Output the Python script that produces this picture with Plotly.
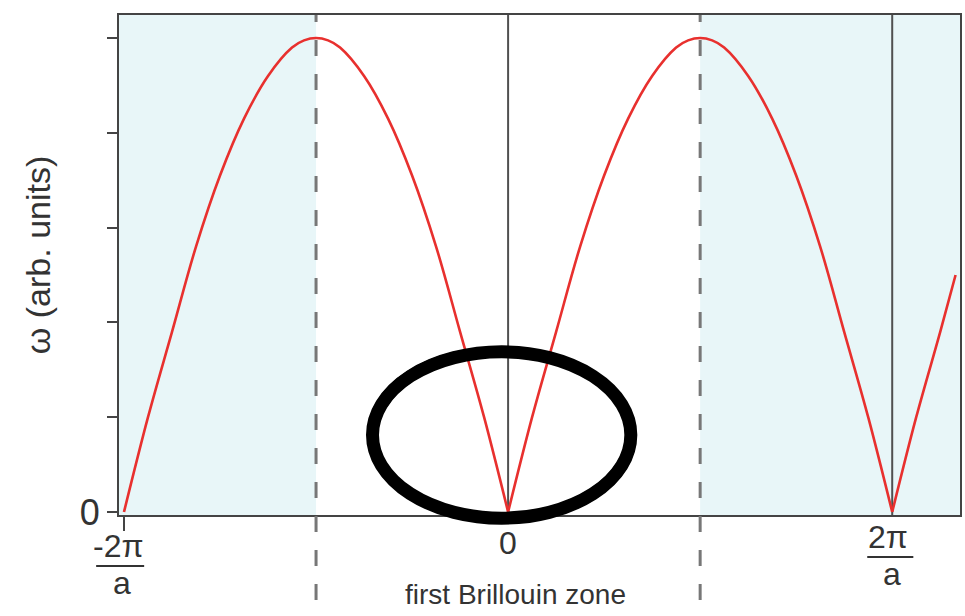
import plotly.graph_objects as go

# Wave vector k in units of pi/a and the phonon frequency (arb. units), per branch segment
k_left = [-2.0, -1.875, -1.75, -1.625, -1.5, -1.375, -1.25, -1.125, -1.0625, -1.0,
          -0.9375, -0.875, -0.75, -0.625, -0.5, -0.375, -0.25, -0.125, 0.0]
w_left = [0.0, 0.20, 0.38, 0.56, 0.71, 0.83, 0.92, 0.98, 0.995, 1.0,
          0.995, 0.98, 0.92, 0.83, 0.71, 0.56, 0.38, 0.20, 0.0]
k_right = [0.0, 0.125, 0.25, 0.375, 0.5, 0.625, 0.75, 0.875, 0.9375, 1.0,
           1.0625, 1.125, 1.25, 1.375, 1.5, 1.625, 1.75, 1.875, 2.0]
w_right = [0.0, 0.20, 0.38, 0.56, 0.71, 0.83, 0.92, 0.98, 0.995, 1.0,
           0.995, 0.98, 0.92, 0.83, 0.71, 0.56, 0.38, 0.20, 0.0]
k_tail = [2.0, 2.125, 2.25, 2.33]
w_tail = [0.0, 0.20, 0.38, 0.50]

y_ticks = [0, 0.2, 0.4, 0.6, 0.8, 1.0]
y_ticktext = ["0", "", "", "", "", ""]

X_RANGE = [-2.026, 2.353]
Y_RANGE = [-0.0063, 1.0485]
W, H = 965, 616
ML, MR, MT, MB = 119, 3, 15, 101

FONT = "Liberation Sans, Arial, sans-serif"
TXT = "#333333"


def xpaper(k):
    return (k - X_RANGE[0]) / (X_RANGE[1] - X_RANGE[0])


def ypaper(w):
    return (w - Y_RANGE[0]) / (Y_RANGE[1] - Y_RANGE[0])


def ypix(p):
    return (H - MB - p) / (H - MT - MB)


fig = go.Figure()
for ks, ws in [(k_left, w_left), (k_right, w_right), (k_tail, w_tail)]:
    fig.add_trace(go.Scatter(
        x=ks, y=ws, mode="lines",
        line=dict(color="#e8302e", width=2.6, shape="spline", smoothing=1.0),
        showlegend=False, hoverinfo="skip",
    ))

shapes = []
# shaded zones outside the first Brillouin zone
for x0, x1 in [(X_RANGE[0], -1.0), (1.0, X_RANGE[1])]:
    shapes.append(dict(type="rect", xref="x", yref="paper", x0=x0, x1=x1, y0=0, y1=1,
                       fillcolor="#e8f6f8", line=dict(width=0), layer="below"))
# zone centre and reciprocal lattice point
for xv in [0.0, 2.0]:
    shapes.append(dict(type="line", xref="x", yref="paper", x0=xv, x1=xv, y0=0, y1=1,
                       line=dict(color="#505050", width=2), layer="below"))
# zone boundaries at +/- pi/a, running down past the axis
for xv in [-1.0, 1.0]:
    shapes.append(dict(type="line", xref="x", yref="paper", x0=xv, x1=xv, y0=-0.17, y1=1,
                       line=dict(color="#777777", width=3, dash="16px,18px"), layer="above"))

# fraction tick labels: (centre k, bar half-width, bar pixel row, numerator)
fractions = [(-2.02, 0.125, 566, "-2π"), (1.99, 0.12, 557, "2π")]
annotations = []
for xc, half, ypx, num in fractions:
    yb = ypix(ypx)
    shapes.append(dict(type="line", xref="paper", yref="paper",
                       x0=xpaper(xc - half), x1=xpaper(xc + half), y0=yb, y1=yb,
                       line=dict(color=TXT, width=2)))
    annotations.append(dict(text=num, x=xpaper(xc - 0.01), y=ypix(ypx - 1),
                            yanchor="bottom"))
    annotations.append(dict(text="a", x=xpaper(xc + 0.01), y=ypix(ypx - 2),
                            yanchor="top"))
annotations.append(dict(text="0", x=xpaper(0.0), y=ypix(543), yanchor="middle"))
for a in annotations:
    a.update(xref="paper", yref="paper", showarrow=False, xanchor="center",
             borderpad=0, font=dict(family=FONT, size=32, color=TXT))

# hand-drawn highlight ring around the origin
for dx, dy, lw in [(0.0, 0.0, 13), (0.012, -0.004, 6), (-0.01, 0.005, 6)]:
    shapes.append(dict(type="circle", xref="paper", yref="paper",
                       x0=xpaper(-0.706 + dx), x1=xpaper(0.639 + dx),
                       y0=ypaper(-0.013 + dy), y1=ypaper(0.338 + dy),
                       line=dict(color="#000000", width=lw)))

annotations.append(dict(text="first Brillouin zone", xref="paper", yref="paper",
                        x=xpaper(0.04), y=ypix(594), showarrow=False,
                        xanchor="center", yanchor="middle",
                        font=dict(family=FONT, size=28, color=TXT)))
annotations.append(dict(text="ω (arb. units)", xref="paper", yref="paper",
                        x=(38 - ML) / (W - ML - MR), y=ypix(255), showarrow=False,
                        textangle=-90, xanchor="center", yanchor="middle",
                        font=dict(family=FONT, size=34, color=TXT)))

fig.update_layout(
    width=W, height=H,
    margin=dict(l=ML, r=MR, t=MT, b=MB),
    plot_bgcolor="white", paper_bgcolor="white",
    shapes=shapes, annotations=annotations,
    xaxis=dict(range=X_RANGE, showgrid=False, zeroline=False,
               showline=True, linecolor="#444444", linewidth=2, mirror=True,
               tickvals=[-2.0], ticktext=[""], ticks="outside", ticklen=14,
               tickwidth=2, tickcolor="#444444"),
    yaxis=dict(range=Y_RANGE, showgrid=False, zeroline=False,
               showline=True, linecolor="#444444", linewidth=2, mirror=True,
               tickvals=y_ticks, ticktext=y_ticktext, ticks="outside", ticklen=10,
               tickwidth=2, tickcolor="#444444",
               tickfont=dict(family=FONT, size=36, color=TXT)),
)

fig.write_html("out.html")
